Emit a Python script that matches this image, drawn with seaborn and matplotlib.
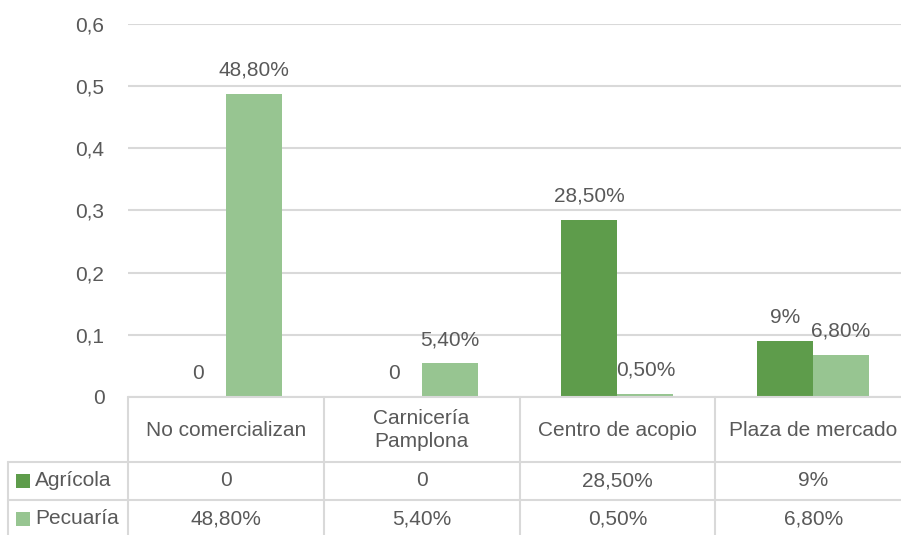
import matplotlib
matplotlib.use("Agg")
import matplotlib.pyplot as plt
import matplotlib.transforms as mtransforms
from matplotlib.lines import Line2D
from matplotlib.patches import Rectangle
from matplotlib.ticker import FuncFormatter, MultipleLocator
import pandas as pd
import seaborn as sns

# Data
categories = ["No comercializan", "Carnicería\nPamplona", "Centro de acopio", "Plaza de mercado"]
series_names = ["Agrícola", "Pecuaría"]
agricola = [0.0, 0.0, 0.285, 0.09]
pecuaria = [0.488, 0.054, 0.005, 0.068]
colors = ["#5e9c4b", "#97c591"]

TEXT = "#595959"
GRID = "#d9d9d9"
FS = 15

sns.set_theme(style="white")
plt.rcParams["font.family"] = ["Liberation Sans", "DejaVu Sans"]


def pct_label(v):
    p = round(v * 100, 2)
    if p == 0:
        return "0"
    if float(p).is_integer():
        return f"{int(p)}%"
    return f"{p:.2f}%".replace(".", ",")


df = pd.DataFrame({
    "categoria": categories * 2,
    "serie": [series_names[0]] * len(categories) + [series_names[1]] * len(categories),
    "valor": agricola + pecuaria,
})

W, H = 901, 535
fig = plt.figure(figsize=(W / 100, H / 100), dpi=100)
# the plot area runs slightly past the right edge of the canvas
ax = fig.add_axes([128 / W, (H - 397) / H, (911 - 128) / W, (397 - 24) / H])

sns.barplot(data=df, x="categoria", y="valor", hue="serie", hue_order=series_names,
            order=categories, palette=colors, width=0.572, gap=0, saturation=1,
            edgecolor="none", linewidth=0, ax=ax, legend=False)

ax.set_ylim(0, 0.6)
ax.set_xlim(-0.5, len(categories) - 0.5)
ax.yaxis.set_major_locator(MultipleLocator(0.1))
ax.yaxis.set_major_formatter(FuncFormatter(
    lambda v, _: "0" if abs(v) < 1e-9 else f"{v:.1f}".replace(".", ",")))
ax.tick_params(axis="y", length=0, pad=17, labelsize=FS, labelcolor=TEXT)
ax.set_xticks([])
ax.set_xlabel("")
ax.set_ylabel("")
ax.grid(axis="y", color=GRID, linewidth=1.5)
ax.set_axisbelow(True)
for s in ax.spines.values():
    s.set_visible(False)

# Value labels above each bar
for cont, vals in zip(ax.containers, [agricola, pecuaria]):
    for rect, v in zip(cont, vals):
        ax.annotate(pct_label(v), (rect.get_x() + rect.get_width() / 2, rect.get_height()),
                    xytext=(0, 13), textcoords="offset points", ha="center",
                    va="baseline", fontsize=FS, color=TEXT)

# Data table below the plot: x follows categories, y in figure pixels from top
tr = mtransforms.blended_transform_factory(ax.transData, fig.transFigure)
fig_px = mtransforms.Affine2D().scale(1 / W, 1 / H) + fig.transFigure


def fy(y):
    return 1 - y / H


edges = [i - 0.5 for i in range(len(categories) + 1)]
x_left_px = 8
row_tops = [397, 462, 500, 535]

line_kw = dict(color=GRID, linewidth=1.5, zorder=3)
# horizontal rules
fig.add_artist(Line2D([edges[0], edges[-1]], [fy(397), fy(397)], transform=tr, **line_kw))
for y in row_tops[1:3]:
    fig.add_artist(Line2D([x_left_px, W], [H - y, H - y], transform=fig_px, **line_kw))
# vertical rules
for e in edges[:-1]:
    fig.add_artist(Line2D([e, e], [fy(397), fy(535)], transform=tr, **line_kw))
fig.add_artist(Line2D([x_left_px, x_left_px], [H - 462, 0], transform=fig_px, **line_kw))

# header row
for i, cat in enumerate(categories):
    fig.text(i, fy(430), cat, transform=tr, ha="center", va="center",
             fontsize=FS, color=TEXT, linespacing=1.3)

# series rows with legend keys
row_centers = [481, 519]
for name, col, vals, yc in zip(series_names, colors, [agricola, pecuaria], row_centers):
    fig.add_artist(Rectangle((16, H - yc - 7), 14, 14, transform=fig_px,
                             facecolor=col, edgecolor="none"))
    fig.text(35 / W, fy(yc), name, ha="left", va="center", fontsize=FS, color=TEXT)
    for i, v in enumerate(vals):
        fig.text(i, fy(yc), pct_label(v), transform=tr, ha="center", va="center",
                 fontsize=FS, color=TEXT)

fig.savefig("out.png", dpi=100, facecolor="white")
